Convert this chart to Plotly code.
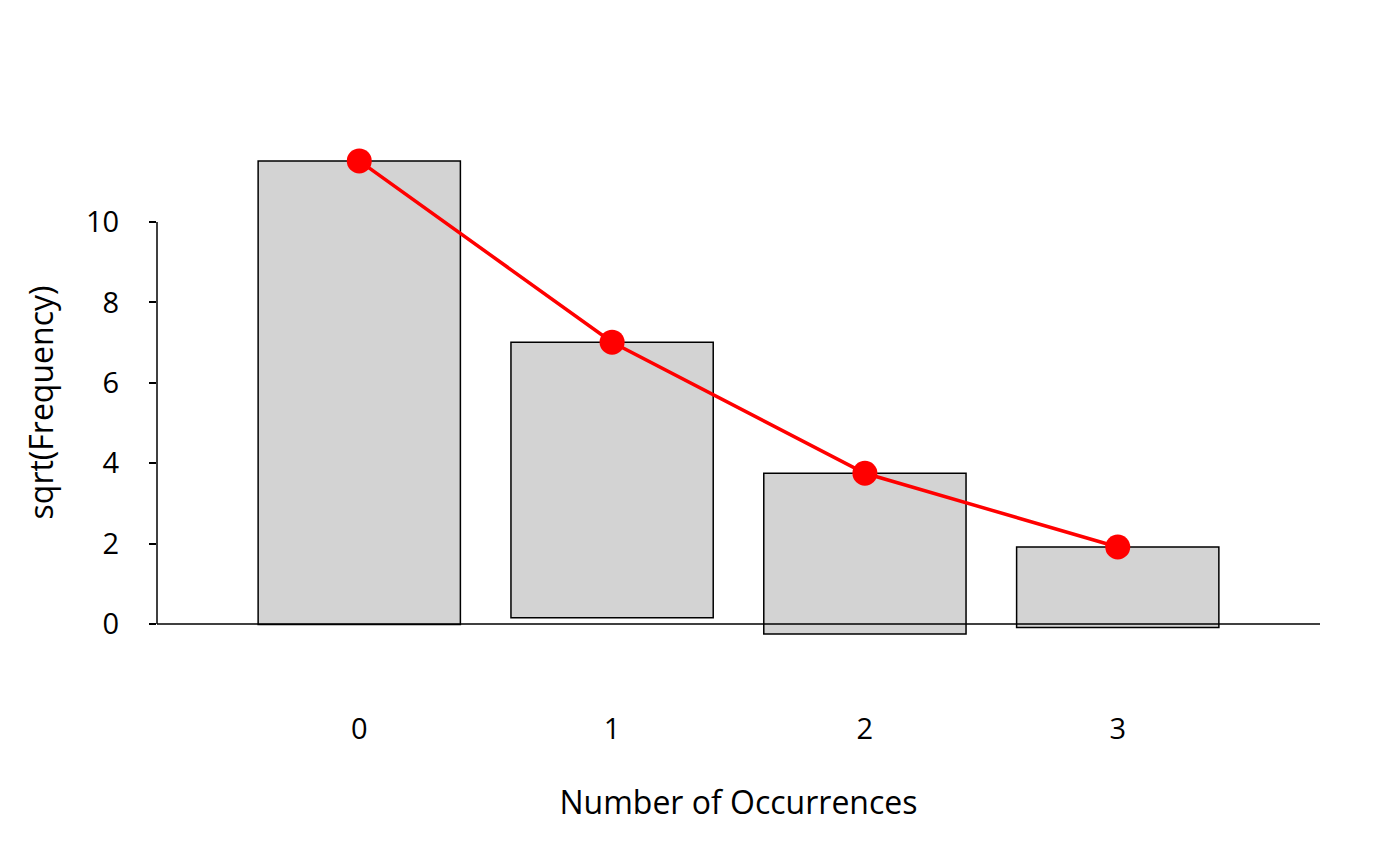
import numpy as np
import plotly.graph_objects as go

counts = [0, 1, 2, 3]
observed_freq = [133, 47, 16, 4]
expected_sqrt = [11.52, 7.01, 3.75, 1.915]
y_ticks = [0, 2, 4, 6, 8, 10]

obs_sqrt = np.sqrt(np.array(observed_freq, dtype=float))
base = np.array(expected_sqrt) - obs_sqrt

FONT = "Open Sans"
fig = go.Figure()
fig.add_trace(go.Bar(
    x=counts, y=obs_sqrt, base=base, width=0.8,
    marker=dict(color="#D3D3D3", line=dict(color="black", width=1.5)),
    showlegend=False, hoverinfo="skip"))
fig.add_trace(go.Scatter(
    x=counts, y=expected_sqrt, mode="lines+markers",
    line=dict(color="#FF0000", width=3.5),
    marker=dict(color="#FF0000", size=25),
    showlegend=False))

fig.update_layout(shapes=[
    dict(type="line", xref="paper", yref="y", x0=0, x1=1, y0=0, y1=0,
         line=dict(color="black", width=1.5), layer="above"),
    dict(type="line", xref="paper", yref="y", x0=0, x1=0, y0=0, y1=10,
         line=dict(color="black", width=1.5), layer="above"),
])

fig.update_layout(
    width=1400, height=866,
    margin=dict(l=149, r=88, t=92, b=169),
    plot_bgcolor="white", paper_bgcolor="white",
    font=dict(family=FONT, size=27, color="black"),
    xaxis=dict(range=[-0.8, 3.8], tickvals=counts, ticktext=[str(c) for c in counts],
               showgrid=False, zeroline=False, showline=False, ticks="",
               automargin=False, tickfont=dict(size=29),
               ticklabelstandoff=4,
               title=dict(text="Number of Occurrences", standoff=45)),
    yaxis=dict(range=[-2.015, 13.035], tickvals=y_ticks, showgrid=False, zeroline=False,
               showline=False, ticks="outside", ticklen=7, tickwidth=1.5, tickcolor="black",
               automargin=False, tickfont=dict(size=29),
               ticklabelstandoff=24,
               title=dict(text="sqrt(Frequency)", standoff=22)),
)
fig.write_html("out.html")
